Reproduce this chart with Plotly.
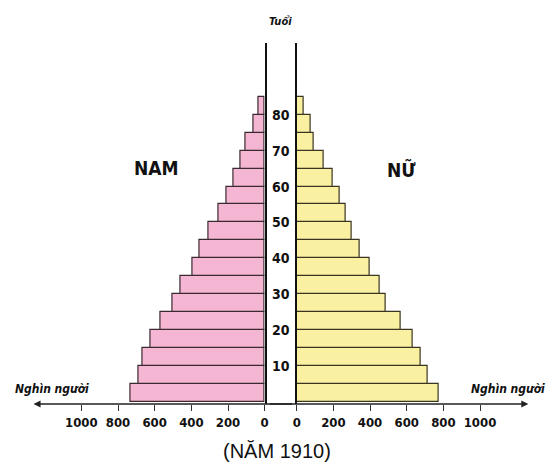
import plotly.graph_objects as go

# Age groups (5-year bands, bottom to top)
age_start = [0, 5, 10, 15, 20, 25, 30, 35, 40, 45, 50, 55, 60, 65, 70, 75, 80]
# Population, thousand persons
male = [734, 686, 668, 620, 566, 502, 460, 395, 353, 308, 251, 206, 170, 129, 102, 59, 36]
female = [776, 717, 677, 633, 570, 485, 454, 400, 342, 301, 266, 233, 194, 149, 95, 77, 36]
x_ticks = [0, 200, 400, 600, 800, 1000]
age_ticks = [10, 20, 30, 40, 50, 60, 70, 80]

W, H = 553, 465
y_mid = [a + 2.5 for a in age_start]
COND = "DejaVu Sans Condensed, Liberation Sans Narrow, Liberation Sans"

fig = go.Figure()
fig.add_trace(go.Bar(
    x=male, y=y_mid, width=5, orientation="h", xaxis="x", yaxis="y",
    marker=dict(color="#F4B6D2", line=dict(color="#3a2a30", width=1.2)),
    showlegend=False, hoverinfo="x+y"))
fig.add_trace(go.Bar(
    x=female, y=y_mid, width=5, orientation="h", xaxis="x2", yaxis="y2",
    marker=dict(color="#FAF0A2", line=dict(color="#3a3520", width=1.2)),
    showlegend=False, hoverinfo="x+y"))

tickfont = dict(family=COND, size=13, color="#111", weight="bold")
yrange = [-0.6, 100]
ydom = [61 / H, 422 / H]

fig.update_layout(
    width=W, height=H, margin=dict(l=0, r=0, t=0, b=0),
    paper_bgcolor="white", plot_bgcolor="white", bargap=0,
    xaxis=dict(domain=[32 / W, 264.5 / W], range=[1250, 0], anchor="y",
               tickvals=x_ticks, ticktext=[str(v) for v in x_ticks],
               ticks="outside", ticklen=6, tickcolor="#333", tickwidth=1.2,
               showgrid=False, zeroline=False, showline=False, tickfont=tickfont),
    xaxis2=dict(domain=[297 / W, 529.5 / W], range=[0, 1250], anchor="y2",
                tickvals=x_ticks, ticktext=[str(v) for v in x_ticks],
                ticks="outside", ticklen=6, tickcolor="#333", tickwidth=1.2,
                showgrid=False, zeroline=False, showline=False, tickfont=tickfont),
    yaxis=dict(domain=ydom, range=yrange, anchor="x", side="right",
               showline=True, linecolor="#111", linewidth=2,
               showticklabels=False, ticks="", showgrid=False, zeroline=False),
    yaxis2=dict(domain=ydom, range=yrange, anchor="x2", side="left",
                showline=True, linecolor="#111", linewidth=2,
                showticklabels=False, ticks="", showgrid=False, zeroline=False),
)

ann = []
for a in age_ticks:
    ann.append(dict(x=281 / W, xref="paper", y=a, yref="y", text="<b>%d</b>" % a,
                    showarrow=False, xanchor="center", yanchor="middle",
                    font=dict(family=COND, size=14, color="#111")))
# axis arrows
ann.append(dict(x=30 / W, xref="paper", y=-0.6, yref="y", ax=260, ay=0,
                axref="pixel", ayref="pixel", text="", showarrow=True,
                arrowhead=2, arrowsize=1, arrowwidth=1.4, arrowcolor="#222"))
ann.append(dict(x=532 / W, xref="paper", y=-0.6, yref="y", ax=-260, ay=0,
                axref="pixel", ayref="pixel", text="", showarrow=True,
                arrowhead=2, arrowsize=1, arrowwidth=1.4, arrowcolor="#222"))


def label(x, y, text, size, family=COND):
    return dict(x=x / W, y=1 - y / H, xref="paper", yref="paper", text=text,
                showarrow=False, xanchor="center", yanchor="middle",
                font=dict(family=family, size=size, color="#111"))


ann += [
    label(281, 21, "<b><i>Tuổi</i></b>", 11),
    label(155, 168, "<b>NAM</b>", 19),
    label(403, 169, "<b>NỮ</b>", 19),
    label(49, 389, "<b><i>Nghìn người</i></b>", 12),
    label(511, 389, "<b><i>Nghìn người</i></b>", 12),
    label(277, 451, "(NĂM 1910)", 20, "Liberation Sans"),
]
fig.update_layout(annotations=ann)

fig.write_html("out.html", config={"displayModeBar": False},
               post_script="document.body.style.margin='0';")
